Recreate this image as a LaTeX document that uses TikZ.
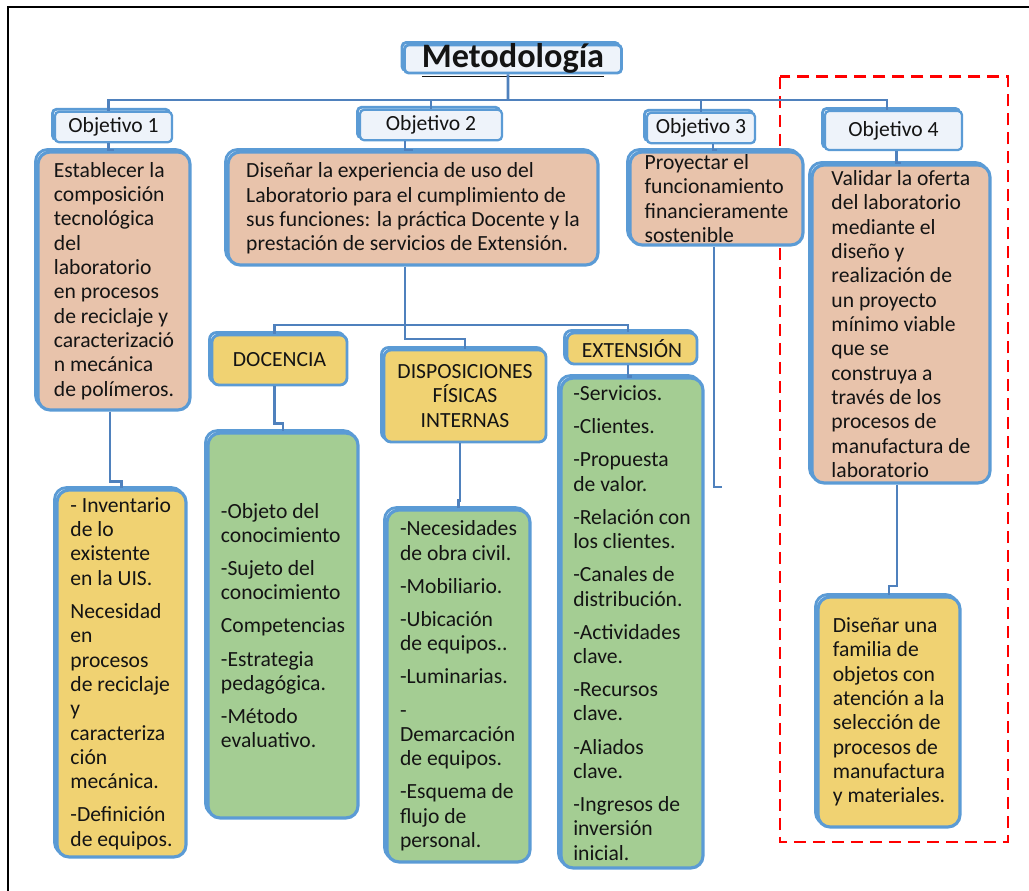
\documentclass[tikz,border=0pt]{standalone}
\usepackage{fontspec}
\setmainfont{Carlito}
\definecolor{bluebd}{HTML}{5B9BD5}
\definecolor{linec}{HTML}{4F81BD}
\definecolor{objfill}{HTML}{EEF3FA}
\definecolor{salmon}{HTML}{E8C3AB}
\definecolor{ocre}{HTML}{F0D272}
\definecolor{verde}{HTML}{A4CD93}
\definecolor{txtc}{HTML}{141414}
\begin{document}
\begin{tikzpicture}[x=0.02cm, y=-0.02cm,
  every node/.style={font=\fontsize{12.3}{13.85}\selectfont, text=txtc},
  shade/.style={preaction={draw=bluebd, line width=1.6pt, transform canvas={xshift=-0.05cm, yshift=0.05cm}}},
  obj/.style={draw=bluebd, fill=objfill, line width=1.3pt, rounded corners=0.08cm, shade},
  hdr/.style={draw=bluebd, fill=ocre, line width=1.6pt, rounded corners=0.14cm, align=center, shade},
  card/.style={draw=bluebd, line width=1.8pt, rounded corners=0.24cm, align=left, inner xsep=0.1cm, inner ysep=0.04cm, shade},
  link/.style={draw=linec, line width=1.2pt},
  bus/.style={draw=linec, line width=1.6pt}]
  \useasboundingbox (0,0) rectangle (1029,891);

  % frame and marked area
  \draw[line width=1.2pt] (8,891) -- (8,7) -- (1029,7);
  \draw[red, line width=1.7pt, dash pattern=on 0.24cm off 0.14cm] (780,77) rectangle (1008,842);

  % title
  \node[obj, line width=1.6pt, minimum width=4.34cm, inner xsep=0pt, inner ysep=0.03cm,
        text height=0.43cm, text depth=0.07cm, font=\bfseries\fontsize{19.5}{22}\selectfont]
        (title) at (513,59) {\underline{Metodología}};

  % objectives
  \node[obj, minimum width=2.34cm, minimum height=0.6cm] (o1) at (113.5,127) {Objetivo 1};
  \node[obj, minimum width=2.84cm, minimum height=0.6cm] (o2) at (431,125) {Objetivo 2};
  \node[obj, minimum width=2.16cm, minimum height=0.6cm] (o3) at (701,128) {Objetivo 3};
  \node[obj, minimum width=2.74cm, minimum height=0.78cm] (o4) at (893.5,130.5) {Objetivo 4};

  % objective texts
  \node[card, fill=salmon, minimum width=3.04cm, minimum height=5.16cm] (t1) at (114,281)
    {Establecer la\\composición\\tecnológica\\del\\laboratorio\\en procesos\\de reciclaje y\\caracterizació\\n mecánica\\de polímeros.};
  \node[card, fill=salmon, minimum width=7.4cm, minimum height=2.26cm] (t2) at (413,208.5)
    {Diseñar la experiencia de uso del\\Laboratorio para el cumplimiento de\\sus funciones: la práctica Docente y la\\prestación de servicios de Extensión.};
  \node[card, fill=salmon, minimum width=3.46cm, minimum height=1.86cm] (t3) at (716.5,198.5)
    {Proyectar el\\funcionamiento\\financieramente\\sostenible};
  \node[card, fill=salmon, minimum width=3.56cm, minimum height=6.36cm] (t4) at (901,324)
    {Validar la oferta\\del laboratorio\\mediante el\\diseño y\\realización de\\un proyecto\\mínimo viable\\que se\\construya a\\través de los\\procesos de\\manufactura de\\laboratorio};

  % second level
  \node[hdr, minimum width=2.7cm, minimum height=1.0cm] (doc) at (279.5,360) {DOCENCIA};
  \node[hdr, minimum width=3.24cm, minimum height=1.84cm] (dis) at (465,396) {DISPOSICIONES\\FÍSICAS\\INTERNAS};
  \node[hdr, minimum width=2.6cm, minimum height=0.62cm] (ext) at (632,348.5) {EXTENSIÓN};

  % detail boxes
  \node[card, fill=ocre, minimum width=2.58cm, minimum height=7.34cm] (y1) at (121.5,673.5)
    {- Inventario\\de lo\\existente\\en la UIS.\\[5pt]Necesidad\\en\\procesos\\de reciclaje\\y\\caracteriza\\ción\\mecánica.\\[5pt]-Definición\\de equipos.};
  \node[card, fill=verde, minimum width=3.0cm, minimum height=7.7cm] (gdoc) at (283,625.5)
    {-Objeto del\\conocimiento\\[5pt]-Sujeto del\\conocimiento\\[5pt]Competencias\\[5pt]-Estrategia\\pedagógica.\\[5pt]-Método\\evaluativo.};
  \node[card, fill=verde, minimum width=2.86cm, minimum height=7.04cm] (gdis) at (458.5,686)
    {-Necesidades\\de obra civil.\\[5pt]-Mobiliario.\\[5pt]-Ubicación\\de equipos..\\[5pt]-Luminarias.\\[5pt]-\\Demarcación\\de equipos.\\[5pt]-Esquema de\\flujo de\\personal.};
  \node[card, fill=verde, minimum width=2.84cm, minimum height=9.8cm] (gext) at (632,623)
    {-Servicios.\\[5pt]-Clientes.\\[5pt]-Propuesta\\de valor.\\[5pt]-Relación con\\los clientes.\\[5pt]-Canales de\\distribución.\\[5pt]-Actividades\\clave.\\[5pt]-Recursos\\clave.\\[5pt]-Aliados\\clave.\\[5pt]-Ingresos de\\inversión\\inicial.};
  \node[card, fill=ocre, minimum width=2.84cm, minimum height=4.6cm] (y4) at (889,712)
    {Diseñar una\\familia de\\objetos con\\atención a la\\selección de\\procesos de\\manufactura\\y materiales.};

  % connectors from the title
  \coordinate (hub) at (508,100);
  \draw[bus] ([xshift=-0.1cm]title.south) -- (hub);
  \draw[bus] ([xshift=-0.1cm]o1.north) |- (hub) -| ([xshift=-0.13cm]o4.north);
  \draw[bus] (o2.north) -- (o2.north |- hub);
  \draw[bus] (o3.north) -- (o3.north |- hub);

  % objectives to their texts
  \draw[link] ([xshift=-0.1cm]o1.south) |- (t1.north);
  \draw[link] ([xshift=-0.52cm]o2.south) |- (t2.north);
  \draw[link] ([xshift=0.24cm]o3.south) |- (t3.north);
  \draw[link] ([xshift=0.06cm]o4.south) |- (t4.north);

  % objective 2 branches
  \coordinate (hub2) at (405,325);
  \draw[link] ([xshift=-0.16cm]t2.south) |- ([yshift=0.2cm]dis.north) -- (dis.north);
  \draw[link] ([xshift=-0.1cm]doc.north) |- (hub2) -| ([xshift=-0.08cm]ext.north);
  \draw[link] ([xshift=-0.1cm]doc.south) |- ([yshift=0.16cm]gdoc.north) -- (gdoc.north);
  \draw[link] ([xshift=-0.1cm]dis.south) |- ([yshift=0.16cm]gdis.north) -- (gdis.north);
  \draw[link] ([xshift=-0.08cm]ext.south) |- (gext.north);

  % remaining branches
  \draw[link] ([xshift=-0.08cm]t1.south) |- ([yshift=0.14cm]y1.north) -- (y1.north);
  \coordinate (o3end) at (722,487);
  \draw[link] ([xshift=-0.05cm]t3.south) |- (o3end);
  \draw[link] ([xshift=-0.08cm]t4.south) |- ([yshift=0.18cm]y4.north) -- (y4.north);
\end{tikzpicture}
\end{document}
